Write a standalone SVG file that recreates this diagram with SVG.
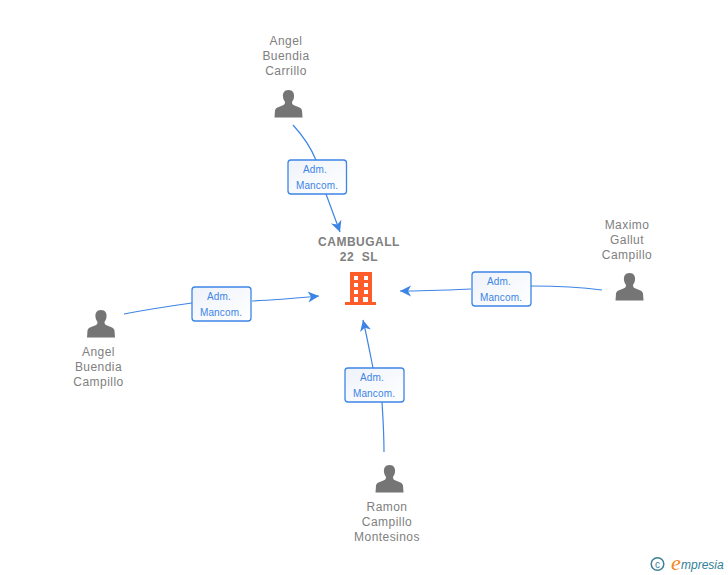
<svg xmlns="http://www.w3.org/2000/svg" width="728" height="575" viewBox="0 0 728 575">
<style>
text{font-family:"Liberation Sans",Arial,sans-serif}
.n{font-size:12px;fill:#808080;text-anchor:middle;letter-spacing:.45px}
.t{font-size:12px;font-weight:bold;fill:#808080;text-anchor:middle;letter-spacing:.5px}
.l{font-size:10px;fill:#3c85e6;text-anchor:middle;letter-spacing:.15px}
.b{fill:url(#g);stroke:#3c85e6;stroke-width:1.3}
.c{fill:none;stroke:#3c85e6;stroke-width:1.2;marker-end:url(#a)}
.c2{fill:none;stroke:#3c85e6;stroke-width:1.2}
.p{fill:#757575}
</style>
<defs>
<linearGradient id="g" x1="0" y1="0" x2="1" y2="1"><stop offset="0" stop-color="#eef3fa"/><stop offset="1" stop-color="#ffffff"/></linearGradient>
<marker id="a" markerWidth="12" markerHeight="12" refX="11" refY="5.500" orient="auto" markerUnits="userSpaceOnUse"><path d="M0 0L11 5.500L0 11L3 5.500Z" fill="#3c85e6"/></marker>
<g id="person"><path class="p" d="M0 -15C-4.500 -15 -6 -11.500 -5.500 -8C-5.300 -6 -4.500 -4.500 -3.500 -3C-3.500 -1.500 -4 -0.500 -5.500 0.300C-8.500 1.500 -13 2.500 -13.500 5.500L-14 12.500H14L13.500 5.500C13 2.500 8.500 1.500 5.500 0.300C4 -0.500 3.500 -1.500 3.500 -3C4.500 -4.500 5.300 -6 5.500 -8C6 -11.500 4.500 -15 0 -15Z"/></g>
</defs>
<g id="connectors">
<path class="c2" d="M293 125C304 137 311 148 316 160"/>
<path class="c" d="M326 194L340 232"/>
<path class="c2" d="M124 314C145 310 170 306 192 303"/>
<path class="c" d="M252 301C275 300 297 298 319 296"/>
<path class="c2" d="M602 290C580 287 555 286 531 286"/>
<path class="c" d="M471 289C447 290 423 291 400 291"/>
<path class="c2" d="M384 452C384 433 383 418 382 402"/>
<path class="c" d="M373 368C370 353 367 337 363 320"/>
</g>
<g id="node-center">
<text class="t" x="359" y="246">CAMBUGALL</text>
<text class="t" x="359" y="261" xml:space="preserve">22  SL</text>
<path fill="#ff5c2b" fill-rule="evenodd" d="M350 272H372V302H376V305H345V302H350ZM354 276V280H358V276ZM364 276V280H368V276ZM354 283V287H358V283ZM364 283V287H368V283ZM354 290V294H358V290ZM364 290V294H368V290ZM354 297V302H358V297ZM363 297V302H368V297Z"/>
</g>
<g id="node-carrillo">
<text class="n" x="286" y="45">Angel</text><text class="n" x="286" y="60">Buendia</text><text class="n" x="286" y="75">Carrillo</text>
<use href="#person" x="288.500" y="105"/>
</g>
<g id="node-maximo">
<text class="n" x="627" y="229">Maximo</text><text class="n" x="627" y="244">Gallut</text><text class="n" x="627" y="259">Campillo</text>
<use href="#person" x="629.500" y="288"/>
</g>
<g id="node-campillo">
<use href="#person" x="101" y="325"/>
<text class="n" x="98.500" y="356">Angel</text><text class="n" x="98.500" y="371">Buendia</text><text class="n" x="98.500" y="386">Campillo</text>
</g>
<g id="node-ramon">
<use href="#person" x="389.500" y="480"/>
<text class="n" x="387" y="511">Ramon</text><text class="n" x="387" y="526">Campillo</text><text class="n" x="387" y="541">Montesinos</text>
</g>
<g id="label-top">
<rect class="b" x="288" y="160" width="58.500" height="34" rx="3"/>
<text class="l" x="315" y="173">Adm.</text><text class="l" x="317" y="188.500">Mancom.</text>
</g>
<g id="label-left">
<rect class="b" x="192" y="287" width="59" height="34" rx="3"/>
<text class="l" x="219" y="300">Adm.</text><text class="l" x="221" y="315.500">Mancom.</text>
</g>
<g id="label-right">
<rect class="b" x="472" y="272" width="59" height="34" rx="3"/>
<text class="l" x="499" y="285">Adm.</text><text class="l" x="501" y="300.500">Mancom.</text>
</g>
<g id="label-bottom">
<rect class="b" x="345" y="368" width="59" height="34" rx="3"/>
<text class="l" x="372" y="381">Adm.</text><text class="l" x="374" y="396.500">Mancom.</text>
</g>
<g id="brand">
<circle cx="657.500" cy="564" r="6.300" fill="none" stroke="#3d7f94" stroke-width="1.500"/>
<text x="657.500" y="567.500" font-size="10" fill="#3d7f94" text-anchor="middle">c</text>
<text x="671" y="570" font-size="22" font-style="italic" fill="#f08a1d" style="font-family:'Liberation Serif',serif">e</text>
<text x="681" y="569" font-size="12" font-style="italic" fill="#2f7f96" style="font-family:'Liberation Sans',sans-serif">mpresia</text>
</g>
</svg>
